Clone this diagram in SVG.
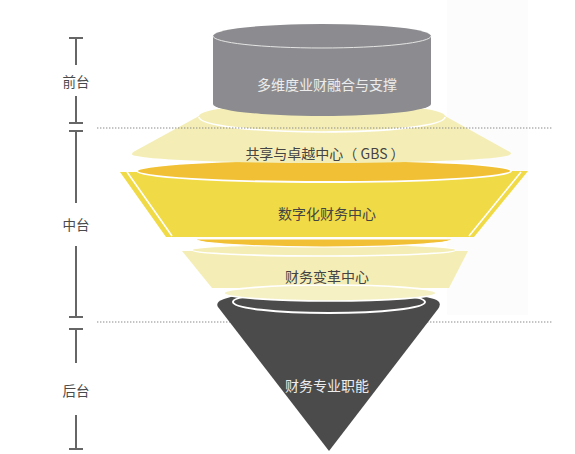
<svg xmlns="http://www.w3.org/2000/svg" width="575" height="454" viewBox="0 0 575 454">
<style>
text{font-family:"Noto Sans CJK SC","Noto Sans",sans-serif;font-size:14px;text-anchor:middle;dominant-baseline:central}
.lbl{font-size:13.5px;fill:#4a4a4a}
.dark{fill:#444}
.light{fill:#ececec}
.axis{stroke:#666;stroke-width:2;fill:none}
.dot{stroke:#8a8a8a;stroke-width:1.2;stroke-dasharray:1.4 1.6;fill:none}
.wl{stroke:#fff;stroke-width:1.6;fill:none}
.ly{fill:#f4eeb6}
.ly2{fill:#f6f1c5}
.or{fill:#f1c034}
.ye{fill:#f0da45}
.dk{fill:#4b4b4b}
.gr{fill:#8c8c90}
</style>
<rect x="447" y="0" width="81" height="315" fill="#fcfcfc"/>
<g id="axis">
<path class="axis" d="M69,38H83M76,38V65M76,96V123M69,123H83M69,131H83M76,131V203M76,246V317M69,317H83M69,329H83M76,329V363M76,415V449M69,449H83"/>
<text class="lbl" x="76" y="81">前台</text>
<text class="lbl" x="76" y="224">中台</text>
<text class="lbl" x="76" y="390">后台</text>
</g>
<g id="connectors">
<path class="dot" d="M97,322H552"/>
</g>
<g id="back-office">
<path class="dk" d="M218,307Q215,302 224,299L234,296H422L434,299Q443,302 438,309L329,451Z"/>
<ellipse class="dk" cx="329" cy="302" rx="96" ry="11" stroke="#fff" stroke-width="2"/>
<text class="light" x="327" y="385">财务专业职能</text>
</g>
<g id="transform">
<path class="ly" d="M182,251H468L449,288H212Z"/>
<ellipse class="ly" cx="324" cy="250" rx="132" ry="6" stroke="#fff" stroke-width="1.6"/>
<ellipse class="ly2" cx="330" cy="293" rx="106" ry="8" stroke="#fff" stroke-width="1.6"/>
<path class="or" d="M196,239H452A128,8 0 0 1 196,239Z" stroke="#fff" stroke-width="1.2"/>
<text class="dark" x="327" y="276">财务变革中心</text>
</g>
<g id="digital">
<path class="ye" d="M120,172L528,171L474,237H166Z"/>
<path class="wl" d="M127,172L172,236M521,172L469,236" stroke-width="1.2"/>
<ellipse class="or" cx="324" cy="171" rx="187" ry="11" stroke="#fff" stroke-width="1.8"/>
<text class="dark" x="327" y="213">数字化财务中心</text>
</g>
<g id="gbs">
<path class="ly" d="M199,116L135,151Q128,155 137,156A189,9 0 0 0 506,156Q515,154 508,151L445,116A123,13 0 0 0 199,116Z"/>
<path class="wl" d="M199,117A123,15 0 0 0 445,117"/>
<text class="dark" x="325" y="153">共享与卓越中心（ GBS ）</text>
</g>
<g id="connectors2">
<path class="dot" d="M97,128H552"/>
</g>
<g id="front-office">
<path class="gr" d="M213,36V104A109,12 0 0 0 431,104V36Z"/>
<ellipse class="gr" cx="322" cy="36" rx="109" ry="12"/>
<path d="M213,36A109,12 0 0 0 431,36" fill="none" stroke="#e4e4e4" stroke-width="1"/>
<text class="light" x="327" y="84">多维度业财融合与支撑</text>
</g>
</svg>
